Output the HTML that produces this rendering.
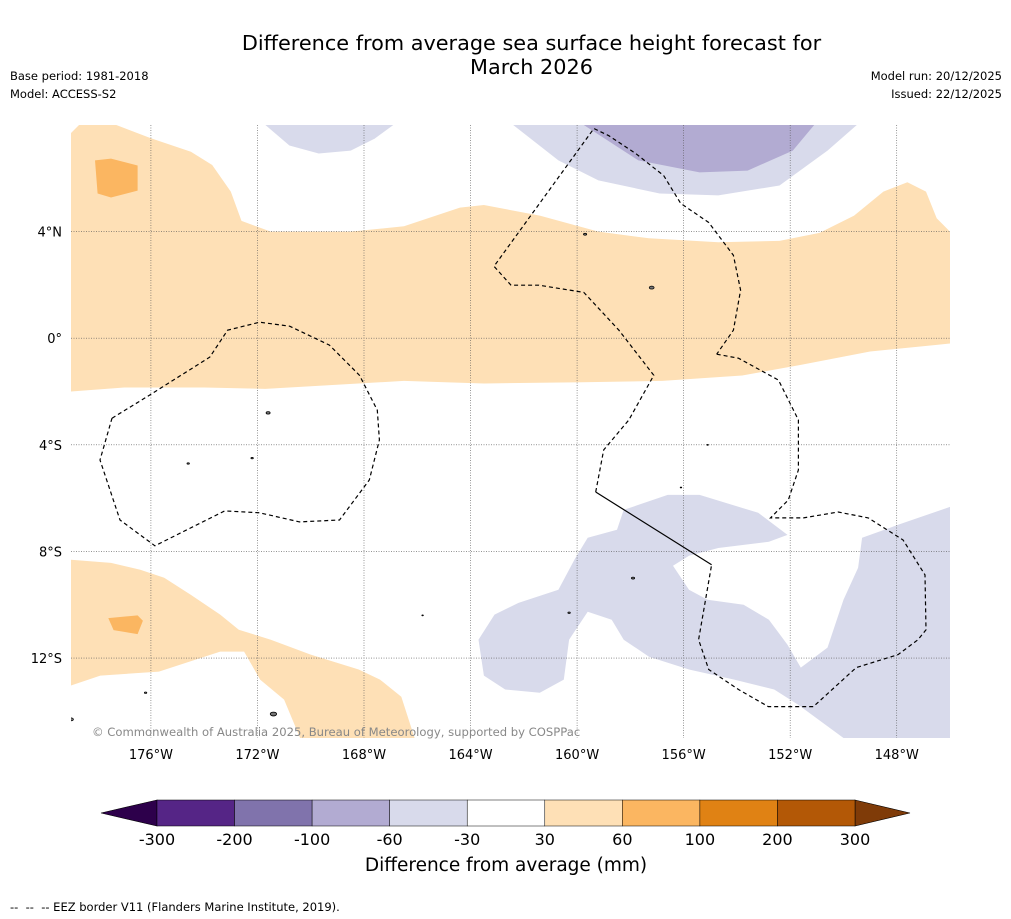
<!DOCTYPE html>
<html><head><meta charset="utf-8">
<style>
body{margin:0;background:#fff;font-family:"DejaVu Sans","Liberation Sans",sans-serif;}
#wrap{position:relative;width:1011px;height:919px;overflow:hidden;}
.t{position:absolute;white-space:nowrap;color:#000;}
</style></head>
<body>
<div id="wrap">
<div class="t" style="left:0;width:1063px;top:31px;text-align:center;font-size:20.8px;line-height:24px;">Difference from average sea surface height forecast for<br>March 2026</div>
<div class="t" style="left:10px;top:69px;font-size:11.5px;">Base period: 1981-2018</div>
<div class="t" style="left:10px;top:87px;font-size:11.5px;">Model: ACCESS-S2</div>
<div class="t" style="right:9px;top:69px;font-size:11.5px;text-align:right;">Model run: 20/12/2025</div>
<div class="t" style="right:9px;top:87px;font-size:11.5px;text-align:right;">Issued: 22/12/2025</div>
<svg id="svg" width="1011" height="919" style="position:absolute;left:0;top:0"></svg>
<div class="t" style="left:10px;top:900px;font-size:11.5px;">--&nbsp; --&nbsp; -- EEZ border V11 (Flanders Marine Institute, 2019).</div>
</div>
<script>
const lonTicks=[-176,-172,-168,-164,-160,-156,-152,-148];
const lonTickLabels=["176°W","172°W","168°W","164°W","160°W","156°W","152°W","148°W"];
const latTicks=[4,0,-4,-8,-12];
const latTickLabels=["4°N","0°","4°S","8°S","12°S"];
const cbLevels=["-300","-200","-100","-60","-30","30","60","100","200","300"];
const cbColors=["#552586","#8073ac","#b2abd2","#d8daeb","#ffffff","#fee0b6","#fbb661","#e08214","#b35806"];
const cbExtendLow="#2d004b", cbExtendHigh="#7f3b08";
const orangeBand=[[-179,7.7],[-178.7,8],[-177.3,8],[-176,7.5],[-174.5,7],[-173.7,6.5],[-173,5.5],[-172.6,4.4],[-171.5,4],[-168.5,4],[-166.5,4.2],[-164.4,4.9],[-163.5,5],[-161.4,4.6],[-159.2,4],[-157.3,3.75],[-154.7,3.6],[-152.4,3.65],[-150.9,3.95],[-149.6,4.6],[-148.5,5.5],[-147.6,5.85],[-146.9,5.5],[-146.5,4.5],[-146,4],[-146,-0.2],[-146.5,-0.25],[-149,-0.5],[-151.6,-1],[-153.8,-1.4],[-156.8,-1.6],[-159.8,-1.65],[-163.5,-1.7],[-166.5,-1.6],[-169.1,-1.75],[-171.7,-1.9],[-174,-1.85],[-177,-1.85],[-179,-2]];
const orangeBlobN=[[-178.1,6.67],[-177.5,6.74],[-176.5,6.48],[-176.5,5.54],[-177.5,5.28],[-178,5.43]];
const orangeSW=[[-179,-8.31],[-177.5,-8.43],[-176.4,-8.69],[-175.5,-8.99],[-174.5,-9.63],[-173.4,-10.37],[-172.7,-10.94],[-171.5,-11.31],[-170,-11.87],[-168.2,-12.43],[-167.4,-12.81],[-166.6,-13.45],[-166.1,-15],[-170.4,-15],[-171,-13.56],[-171.9,-12.81],[-172.5,-11.76],[-173.4,-11.76],[-175.7,-12.51],[-177.9,-12.66],[-179,-13.03]];
const orangeBlobS=[[-177.6,-10.5],[-176.5,-10.4],[-176.3,-10.6],[-176.5,-11.1],[-177.4,-10.95]];
const purpleN1=[[-171.7,8],[-170.8,7.23],[-169.7,6.93],[-168.5,7.04],[-167.6,7.49],[-166.9,8]];
const purpleN2=[[-162.4,8],[-160.7,6.67],[-159.2,5.92],[-156.9,5.43],[-154.7,5.36],[-152.4,5.73],[-150.6,7.04],[-149.5,8]];
const purpleN2mid=[[-159.75,8],[-157.7,6.67],[-155.4,6.22],[-153.6,6.29],[-151.9,7.04],[-151.1,8]];
const purpleS=[[-163.7,-11.31],[-163.1,-10.37],[-162.2,-9.93],[-160.7,-9.44],[-160.1,-8.31],[-159.6,-7.49],[-158.5,-7.19],[-158.25,-6.44],[-156.6,-5.88],[-155.4,-5.88],[-153.2,-6.55],[-152.1,-7.38],[-152.8,-7.64],[-154.7,-7.87],[-155.8,-8.16],[-156.4,-8.54],[-155.8,-9.44],[-155.1,-9.81],[-153.75,-10],[-152.8,-10.56],[-152.1,-11.5],[-151.6,-12.36],[-150.6,-11.61],[-150,-9.81],[-149.45,-8.61],[-149.3,-7.49],[-147.95,-7],[-146,-6.33],[-146,-15],[-150,-15],[-151.7,-13.75],[-152.6,-13.18],[-154.1,-12.81],[-155.8,-12.43],[-157.3,-11.95],[-158.25,-11.31],[-158.7,-10.56],[-159.6,-10.26],[-160.3,-11.31],[-160.5,-12.81],[-161.4,-13.3],[-162.7,-13.18],[-163.5,-12.66]];
const eezWest=[[-177.46,-3.0],[-176.04,-2.13],[-173.79,-0.71],[-173.12,0.3],[-171.92,0.6],[-170.79,0.45],[-169.3,-0.26],[-168.17,-1.39],[-167.5,-2.7],[-167.42,-3.82],[-167.8,-5.32],[-168.92,-6.82],[-170.42,-6.89],[-171.92,-6.55],[-173.23,-6.48],[-175.85,-7.79],[-177.16,-6.82],[-177.91,-4.57],[-177.46,-3.0]];
const eezCentral=[[-159.3,-5.77],[-159,-4.19],[-158.06,-3.07],[-157.12,-1.39],[-158.43,0.3],[-159.75,1.72],[-161.43,1.99],[-162.48,1.99],[-163.12,2.7],[-159.37,7.87],[-158.81,7.6],[-157.8,6.93],[-156.75,6.1],[-156.11,5.06],[-155.06,4.34],[-154.13,3.11],[-153.86,1.8],[-154.13,0.3],[-154.76,-0.6]];
const eezEast=[[-154.76,-0.6],[-153.94,-0.75],[-152.44,-1.57],[-151.69,-3.07],[-151.69,-4.94],[-152.07,-6.07],[-152.74,-6.74],[-151.5,-6.74],[-150.2,-6.52],[-149.07,-6.74],[-147.76,-7.57],[-146.94,-8.88],[-146.9,-10.94],[-147.2,-11.31],[-147.95,-11.87],[-149.52,-12.36],[-151.13,-13.82],[-152.82,-13.82],[-153.94,-13.18],[-155.06,-12.43],[-155.44,-11.31],[-154.95,-8.5]];
const boundarySolid=[[-159.3,-5.77],[-154.95,-8.5]];
const islands=[[-171.6,-2.8],[-174.6,-4.7],[-172.2,-4.5],[-165.8,-10.4],[-160.3,-10.3],[-157.9,-9.0],[-157.2,1.9],[-159.7,3.9],[-155.1,-4.0],[-156.1,-5.6],[-171.4,-14.1],[-176.2,-13.3],[-179,-14.3]];
const islandSize=[0.5,0.3,0.3,0.2,0.3,0.4,0.6,0.4,0.2,0.2,0.8,0.3,0.6];

const X0=71,X1=950,Y0=125,Y1=738,LON0=-179,LON1=-146,LAT0=8,LAT1=-15;
function xs(lon){return X0+(lon-LON0)/(LON1-LON0)*(X1-X0);}
function ys(lat){return Y0+(lat-LAT0)/(LAT1-LAT0)*(Y1-Y0);}
const NS="http://www.w3.org/2000/svg";
const FF="DejaVu Sans, Liberation Sans, sans-serif";
const svg=document.getElementById('svg');
function mk(tag,attrs,parent){const e=document.createElementNS(NS,tag);for(const k in attrs)e.setAttribute(k,attrs[k]);(parent||svg).appendChild(e);return e;}
function pts(a){return a.map(p=>xs(p[0]).toFixed(1)+','+ys(p[1]).toFixed(1)).join(' ');}
const defs=mk('defs',{});
const cp=mk('clipPath',{id:'mapclip'},defs);
mk('rect',{x:X0,y:Y0,width:X1-X0,height:Y1-Y0},cp);
const g=mk('g',{'clip-path':'url(#mapclip)'});


function poly(a,fill,name){const p=mk('polygon',{points:pts(a),fill:fill,stroke:'none'},g);

}
poly(orangeBand,cbColors[5],'positive-anomaly-band');
poly(orangeBlobN,cbColors[6],'strong-positive-north');
poly(orangeSW,cbColors[5],'positive-anomaly-southwest');
poly(orangeBlobS,cbColors[6],'strong-positive-south');
poly(purpleN1,cbColors[3],'negative-anomaly-north-1');
poly(purpleN2,cbColors[3],'negative-anomaly-north-2');
poly(purpleN2mid,cbColors[2],'negative-anomaly-north-core');
poly(purpleS,cbColors[3],'negative-anomaly-south');
lonTicks.forEach((lon,i)=>{const l=mk('line',{x1:xs(lon),x2:xs(lon),y1:Y0,y2:Y1,stroke:'#555','stroke-width':0.6,'stroke-dasharray':'1,1.5'},g);


const t=mk('text',{x:xs(lon),y:759,'font-size':13,'text-anchor':'middle','font-family':FF});t.textContent=lonTickLabels[i];

});
latTicks.forEach((lat,i)=>{const l=mk('line',{x1:X0,x2:X1,y1:ys(lat),y2:ys(lat),stroke:'#555','stroke-width':0.6,'stroke-dasharray':'1,1.5'},g);


const t=mk('text',{x:62,y:ys(lat)+5,'font-size':13,'text-anchor':'end','font-family':FF});t.textContent=latTickLabels[i];

});
[[eezWest,'eez-border-west'],[eezCentral,'eez-border-central'],[eezEast,'eez-border-east']].forEach(([a,n])=>{const p=mk('polyline',{points:pts(a),fill:'none',stroke:'#000','stroke-width':1.2,'stroke-dasharray':'4,3'},g);

});
const sb=mk('polyline',{points:pts(boundarySolid),fill:'none',stroke:'#000','stroke-width':1.2},g);


islands.forEach((p,i)=>{const r=islandSize[i]*4;const e=mk('ellipse',{cx:xs(p[0]),cy:ys(p[1]),rx:r,ry:r*0.6,fill:'#777',stroke:'#000','stroke-width':0.8},g);

});
const cr=mk('text',{x:92,y:736,'font-size':11.6,fill:'#888','font-family':FF});
cr.textContent='© Commonwealth of Australia 2025, Bureau of Meteorology, supported by COSPPac';


const CB0=157,CB1=855,CBY=800,CBH=26,n=cbColors.length,bw=(CB1-CB0)/n;
const cbg=mk('g',{});


const lo=mk('polygon',{points:`${CB0},${CBY} ${101},${CBY+CBH/2} ${CB0},${CBY+CBH}`,fill:cbExtendLow,stroke:'#000','stroke-width':0.6},cbg);


const hi=mk('polygon',{points:`${CB1},${CBY} ${910},${CBY+CBH/2} ${CB1},${CBY+CBH}`,fill:cbExtendHigh,stroke:'#000','stroke-width':0.6},cbg);


cbColors.forEach((c,i)=>{const r=mk('rect',{x:CB0+i*bw,y:CBY,width:bw,height:CBH,fill:c,stroke:'#000','stroke-width':0.5},cbg);

});
cbLevels.forEach((l,i)=>{const t=mk('text',{x:CB0+i*bw,y:845,'font-size':16,'text-anchor':'middle','font-family':FF},cbg);t.textContent=l;

});
const ct=mk('text',{x:506,y:871,'font-size':18.5,'text-anchor':'middle','font-family':FF},cbg);
ct.textContent='Difference from average (mm)';


</script>
</body></html>
